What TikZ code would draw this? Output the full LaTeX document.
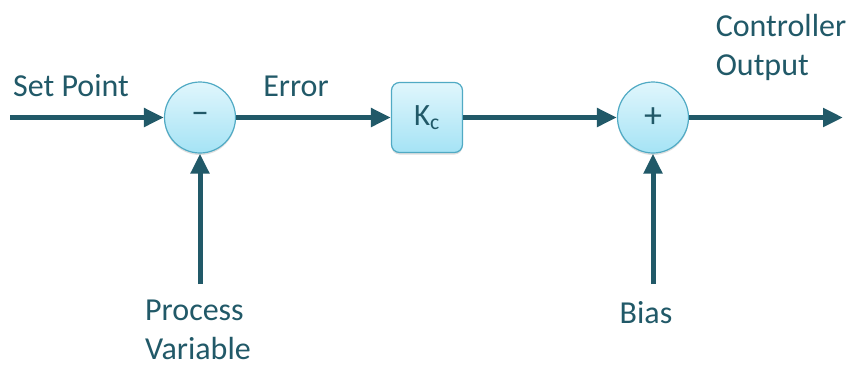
\documentclass[tikz,border=0pt]{standalone}
\usepackage{fontspec}
\setmainfont{Carlito}
\usetikzlibrary{arrows.meta,shadows}
\definecolor{linecol}{RGB}{33,89,104}
\definecolor{bordercol}{RGB}{80,170,196}
\definecolor{filltop}{RGB}{224,246,252}
\definecolor{fillbot}{RGB}{165,227,245}
\begin{document}
\begin{tikzpicture}[x=1pt, y=-1pt, thick,
    sum/.style = {draw=bordercol, circle, line width=1.2pt, minimum size=71pt, inner sep=0pt,
        top color=filltop, bottom color=fillbot, text=linecol, font=\fontsize{36}{36}\selectfont,
        drop shadow={opacity=0.25, shadow xshift=0pt, shadow yshift=-2pt}},
    gain/.style = {draw=bordercol, rounded corners=8pt, line width=1.2pt, minimum width=71pt, minimum height=70pt,
        top color=filltop, bottom color=fillbot, text=linecol, font=\fontsize{31}{32}\selectfont,
        drop shadow={opacity=0.25, shadow xshift=0pt, shadow yshift=-2pt}},
    flow/.style = {draw=linecol, line width=5pt, -{Triangle[length=20pt,width=18pt]}},
    lbl/.style = {text=linecol, font=\fontsize{32}{39}\selectfont, inner sep=0pt}]
    \fill[white] (0,0) rectangle (851,365);
    \useasboundingbox (0,0) rectangle (851,365);
    \node[sum] (s1) at (200,117.5) {–};
    \node[gain] (k) at (427,117.5) {K\textsubscript{c}};
    \node[sum] (s2) at (653,117.5) {+};
    \coordinate (sp) at (10,117.5);
    \coordinate (out) at (843,117.5);
    \coordinate (pv) at (200,284);
    \coordinate (bias) at (653,284);
    \node[lbl] (splbl) at (71,86) {Set Point};
    \node[lbl] (errlbl) at (296,86) {Error};
    \node[lbl, align=left] (outlbl) at (781,47) {Controller\\Output};
    \node[lbl, align=left] (pvlbl) at (198,330) {Process\\Variable};
    \node[lbl] (biaslbl) at (646,313) {Bias};
    \draw[flow] (sp) -- (s1);
    \draw[flow] (s1) -- (k);
    \draw[flow] (k) -- (s2);
    \draw[flow] (s2) -- (out);
    \draw[flow] (pv) -- (s1);
    \draw[flow] (bias) -- (s2);
\end{tikzpicture}
\end{document}
